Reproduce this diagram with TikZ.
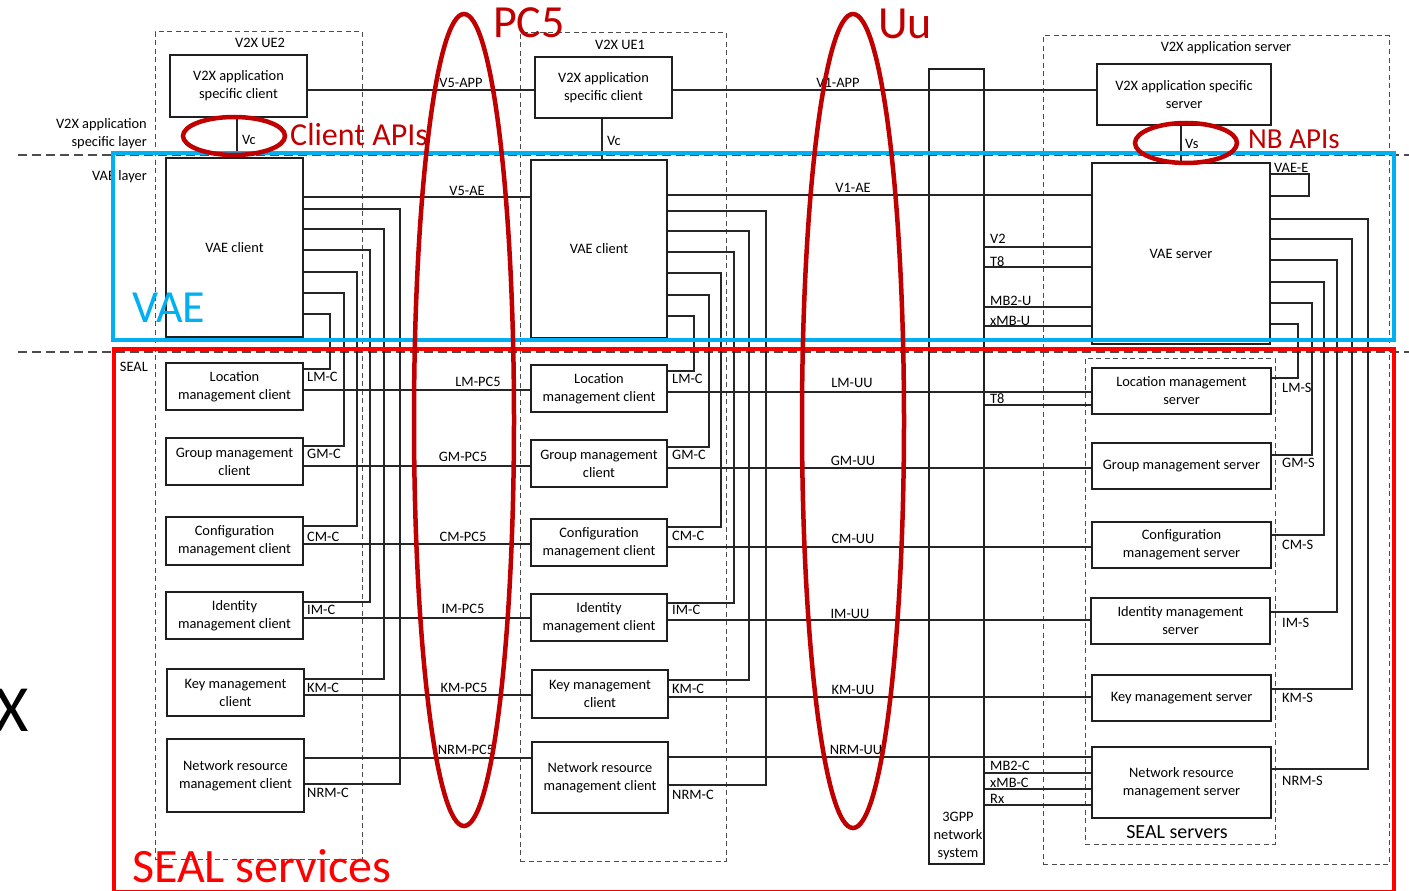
\documentclass[tikz,border=0pt]{standalone}
\usepackage{fontspec}
\setmainfont{Carlito}
\definecolor{apired}{RGB}{192,0,0}
\definecolor{sealred}{RGB}{255,0,0}
\definecolor{vaeblue}{RGB}{0,176,240}
% node from its corners: style, name, x1, y1, x2, y2, text
\newcommand\place[7]{\node[#1,minimum width={(#5)-(#3)},minimum height={(#6)-(#4)}] (#2) at ({((#3)+(#5))/2},{((#4)+(#6))/2}) {#7};}
\tikzset{
  txt/.style={font=\fontsize{14.4}{18}\selectfont},
  box/.style={txt, draw=black!88, line width=1.1pt, align=center, inner sep=0pt},
  grp/.style={draw=black!70, line width=1pt, dash pattern=on 5pt off 3.5pt, inner sep=0pt},
  conn/.style={draw=black!85, line width=1.1pt},
  lbl/.style={txt, inner sep=0pt},
  sep/.style={draw=black!70, line width=1.1pt, dash pattern=on 9pt off 5pt},
  ring/.style={draw=apired, line width=4.5pt},
  band/.style={line width=4pt},
  big/.style={inner sep=0pt, font=\fontsize{#1}{#1}\selectfont},
}
\begin{document}
\begin{tikzpicture}[x=1pt,y=-1pt]
\useasboundingbox (0,0) rectangle (1409,891);

% layer separators
\draw[sep] (18,155) -- (1409,155);
\draw[sep] (18,352) -- (1409,352);

% dashed groupings
\place{grp}{ue2}{155}{32}{362}{859}{}
\place{grp}{ue1}{520}{33}{726}{861}{}
\place{grp}{asrv}{1043}{36}{1389}{864}{}
\place{grp}{sealsrv}{1085}{358}{1275}{844}{}
\node[lbl] (ue2t) at (260,43) {V2X UE2};
\node[lbl] (ue1t) at (620,45) {V2X UE1};
\node[lbl] (asrvt) at (1226,48) {V2X application server};
\node[big=20] (sealsrvt) at (1177,832) {SEAL servers};

% layer names
\node[lbl,anchor=east,align=right] (lay1) at (147,134) {V2X application\\specific layer};
\node[lbl,anchor=east] (lay2) at (147,177) {VAE layer};
\node[lbl,anchor=east] (lay3) at (148,367) {SEAL};

% 3GPP network system
\place{box}{ng}{929}{69}{984}{864}{}
\node[lbl,align=center] (ngt) at (958,836) {3GPP\\network\\system};

% V2X UE2
\place{box}{app2}{170}{55}{307}{117}{V2X application\\specific client}
\place{box}{vae2}{166}{158}{303}{337}{VAE client}
\place{box}{c2lm}{166}{363}{303}{410}{Location\\management client}
\place{box}{c2gm}{166}{438}{303}{485}{Group management\\client}
\place{box}{c2cm}{166}{517}{303}{565}{Configuration\\management client}
\place{box}{c2im}{166}{592}{303}{639}{Identity\\management client}
\place{box}{c2km}{167}{669}{304}{716}{Key management\\client}
\place{box}{c2nrm}{167}{739}{304}{812}{Network resource\\management client}

% V2X UE1
\place{box}{app1}{535}{57}{672}{118}{V2X application\\specific client}
\place{box}{vae1}{531}{160}{667}{338}{VAE client}
\place{box}{c1lm}{531}{365}{667}{412}{Location\\management client}
\place{box}{c1gm}{531}{440}{667}{487}{Group management\\client}
\place{box}{c1cm}{531}{519}{667}{566}{Configuration\\management client}
\place{box}{c1im}{531}{594}{667}{641}{Identity\\management client}
\place{box}{c1km}{532}{670}{668}{718}{Key management\\client}
\place{box}{c1nrm}{532}{742}{668}{813}{Network resource\\management client}

% V2X application server
\place{box}{apps}{1097}{64}{1271}{125}{V2X application specific\\server}
\place{box}{vaes}{1092}{163}{1270}{344}{VAE server}
\place{box}{slm}{1092}{368}{1271}{414}{Location management\\server}
\place{box}{sgm}{1092}{443}{1271}{489}{Group management server}
\place{box}{scm}{1092}{522}{1271}{568}{Configuration\\management server}
\place{box}{sim}{1091}{598}{1270}{644}{Identity management\\server}
\place{box}{skm}{1092}{675}{1271}{721}{Key management server}
\place{box}{snrm}{1092}{747}{1271}{818}{Network resource\\management server}

% application level interfaces
\draw[conn] (app2.south -| 237,0) -- (vae2.north -| 237,0);
\node[lbl,anchor=west] (vc2) at (242,140) {Vc};
\draw[conn] (app1.south -| 602,0) -- (vae1.north -| 602,0);
\node[lbl,anchor=west] (vc1) at (607,141) {Vc};
\draw[conn] (apps.south -| 1181,0) -- (vaes.north -| 1181,0);
\node[lbl,anchor=west] (vs) at (1185,144) {Vs};
\draw[conn] (app2.east |- 0,90) -- (app1.west |- 0,90);
\node[lbl] (v5app) at (461,83) {V5-APP};
\draw[conn] (app1.east |- 0,90) -- (apps.west |- 0,90);
\node[lbl] (v1app) at (838,83) {V1-APP};
\draw[conn] (vae2.east |- 0,197) -- (vae1.west |- 0,197);
\node[lbl] (v5ae) at (467,191) {V5-AE};
\draw[conn] (vae1.east |- 0,195) -- (vaes.west |- 0,195);
\node[lbl] (v1ae) at (853,188) {V1-AE};
\draw[conn] (vaes.east |- 0,174) -| (1309,196) -- (vaes.east |- 0,196);
\node[lbl,anchor=west] (vaee) at (1274,168) {VAE-E};

% VAE client to SEAL clients, UE2
\foreach \n/\N/\ya/\xv/\yb/\yl in {lm/LM/314/330/369/377, gm/GM/293/344/446/454, cm/CM/272/357/526/537, im/IM/250/370/602/610, km/KM/229/384/679/688, nrm/NRM/209/400/784/793}{
  \draw[conn] (vae2.east |- 0,\ya) -| (\xv,\yb) -- (c2\n.east |- 0,\yb);
  \node[lbl,anchor=west] at (307,\yl) {\N-C};
}
% VAE client to SEAL clients, UE1
\foreach \n/\N/\ya/\xv/\yb/\yl in {lm/LM/316/694/371/379, gm/GM/295/709/447/455, cm/CM/273/721/527/536, im/IM/252/734/603/610, km/KM/231/749/680/689, nrm/NRM/211/766/785/795}{
  \draw[conn] (vae1.east |- 0,\ya) -| (\xv,\yb) -- (c1\n.east |- 0,\yb);
  \node[lbl,anchor=west] at (672,\yl) {\N-C};
}
% PC5 reference points
\foreach \n/\N/\y/\lx/\ly in {lm/LM/390/478/382, gm/GM/466/463/457, cm/CM/544/463/537, im/IM/618/463/609, km/KM/695/464/688, nrm/NRM/758/466/750}{
  \draw[conn] (c2\n.east |- 0,\y) -- (c1\n.west |- 0,\y);
  \node[lbl] at (\lx,\ly) {\N-PC5};
}
% Uu reference points
\foreach \n/\N/\y/\lx/\ly in {lm/LM/392/852/383, gm/GM/468/853/461, cm/CM/547/853/539, im/IM/620/850/614, km/KM/697/853/690, nrm/NRM/757/856/750}{
  \draw[conn] (c1\n.east |- 0,\y) -- (s\n.west |- 0,\y);
  \node[lbl] at (\lx,\ly) {\N-UU};
}
% VAE server to SEAL servers
\foreach \n/\N/\ya/\xv/\yb/\yl in {lm/LM/324/1298/378/388, gm/GM/303/1312/455/463, cm/CM/282/1324/535/545, im/IM/260/1337/612/623, km/KM/239/1352/689/698, nrm/NRM/219/1368/769/781}{
  \draw[conn] (vaes.east |- 0,\ya) -| (\xv,\yb) -- (s\n.east |- 0,\yb);
  \node[lbl,anchor=west] at (1282,\yl) {\N-S};
}
% 3GPP network system interfaces
\foreach \y/\t/\ly in {247/V2/239, 267/T8/262, 307/MB2-U/301, 326/xMB-U/321}{
  \draw[conn] (ng.east |- 0,\y) -- (vaes.west |- 0,\y);
  \node[lbl,anchor=west] at (990,\ly) {\t};
}
\draw[conn] (ng.east |- 0,405) -- (slm.west |- 0,405);
\node[lbl,anchor=west] (t8b) at (990,399) {T8};
\foreach \y/\t/\ly in {773/MB2-C/766, 789/xMB-C/783, 805/Rx/799}{
  \draw[conn] (ng.east |- 0,\y) -- (snrm.west |- 0,\y);
  \node[lbl,anchor=west] at (990,\ly) {\t};
}

% highlighted areas
\draw[vaeblue,band] (112.5,153) rectangle (1394,339.5);
\draw[sealred,band] (114,349) rectangle (1394,892);
\node[big=46,text=vaeblue,anchor=west] (vaet) at (132,308) {VAE};
\node[big=48,text=sealred,anchor=west] (sealt) at (132,866) {SEAL services};

% interface groups
\draw[ring] (464,420) ellipse [x radius=50pt, y radius=406pt];
\draw[ring] (853,421) ellipse [x radius=51pt, y radius=407pt];
\draw[ring] (234,136) ellipse [x radius=51pt, y radius=19pt];
\draw[ring] (1186,143) ellipse [x radius=51pt, y radius=20pt];
\node[big=46,text=apired,anchor=west] (pc5t) at (493,23) {PC5};
\node[big=46,text=apired,anchor=west] (uut) at (878,24) {Uu};
\node[big=32,text=apired,anchor=west] (capit) at (290,135) {Client APIs};
\node[big=29,text=apired,anchor=west] (nbapit) at (1248,139) {NB APIs};
\node[big=66,anchor=east] (xt) at (29,710) {X};
\end{tikzpicture}
\end{document}
